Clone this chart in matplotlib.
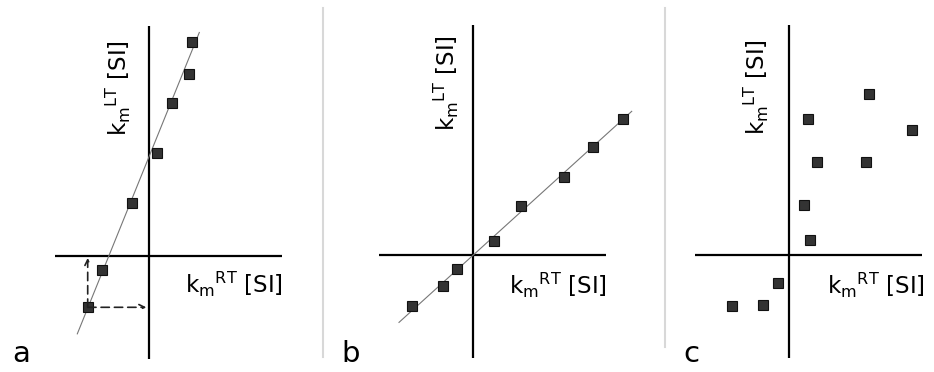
import numpy as np
import matplotlib
matplotlib.use("Agg")
import matplotlib.pyplot as plt
from matplotlib.lines import Line2D

plt.rcParams['font.family'] = ['DejaVu Sans']
plt.rcParams['mathtext.fontset'] = 'dejavusans'

# data (arbitrary units, origin at axis crossing)
a_x = [4.24, 3.94, 2.30, 0.74, -1.76, -4.70, -6.16]
a_y = [21.37, 18.20, 15.33, 10.27, 5.33, -1.40, -5.13]
a_fit = (2.47, 10.0)
a_fit_x = [-7.2, 5.0]

b_x = [14.94, 12.00, 9.10, 4.74, 2.07, -1.66, -3.06, -6.10]
b_y = [13.60, 10.83, 7.77, 4.90, 1.43, -1.37, -3.10, -5.10]
b_fit = (0.907, 0.0)
b_fit_x = [-7.43, 15.84]

c_x = [8.00, 1.93, 12.27, 2.83, 7.73, 1.50, 2.10, -1.07, -2.57, -5.67]
c_y = [16.10, 13.57, 12.50, 9.33, 9.33, 5.00, 1.50, -2.83, -5.00, -5.10]

W, H = 934, 372
fig = plt.figure(figsize=(W / 100, H / 100), dpi=100)

# panel boxes in pixels: left, right, origin x, origin y
panels = [
    (0, 323, 149.3, 256),
    (323, 665, 473.3, 255),
    (665, 934, 789, 255),
]
scale = 10.0  # px per unit

axes = []
for (x0, x1, ox, oy) in panels:
    ax = fig.add_axes([x0 / W, 0, (x1 - x0) / W, 1])
    ax.set_xlim((x0 - ox) / scale, (x1 - ox) / scale)
    ax.set_ylim((oy - H) / scale, oy / scale)
    ax.axis('off')
    axes.append(ax)

xl = r"k$_\mathregular{m}$$^\mathregular{RT}$ [SI]"
yl = r"k$_\mathregular{m}$$^\mathregular{LT}$ [SI]"
fs = 16.5
ylab_pos = [(-3.13, 16.8), (-2.66, 17.2), (-3.23, 16.8)]
xlab_pos = [(8.47, -2.8), (8.5, -3.0), (8.68, -3.0)]
letters = ['a', 'b', 'c']
letter_x = [12, 341, 683]

for i, ax in enumerate(axes):
    ax.plot([-9.4, 13.3], [0, 0], color='black', lw=1.6, solid_capstyle='butt')
    ax.plot([0, 0], [-10.3, 23.0], color='black', lw=1.6, solid_capstyle='butt')
    ax.text(*ylab_pos[i], yl, rotation=90, ha='center', va='center', fontsize=fs)
    ax.text(*xlab_pos[i], xl, ha='center', va='center', fontsize=fs)
    fig.text(letter_x[i] / W, 1 - 362 / H, letters[i], fontsize=21, ha='left', va='baseline')

mk = dict(marker='s', linestyle='none', markersize=7.6, markerfacecolor='#333333',
          markeredgecolor='#111111', markeredgewidth=0.8, zorder=3)

fx = np.array(a_fit_x)
axes[0].plot(fx, a_fit[0] * fx + a_fit[1], color='#777777', lw=0.8)
axes[0].plot(a_x, a_y, **mk)
arr = dict(arrowstyle='->', linestyle=(0, (5, 3)), color='#222222', lw=1.2,
           shrinkA=0, shrinkB=0)
axes[0].annotate('', xy=(a_x[-1], -0.2), xytext=(a_x[-1], a_y[-1]), arrowprops=arr)
axes[0].annotate('', xy=(-0.3, a_y[-1]), xytext=(a_x[-1], a_y[-1]), arrowprops=arr)

fx = np.array(b_fit_x)
axes[1].plot(fx, b_fit[0] * fx + b_fit[1], color='#777777', lw=0.8)
axes[1].plot(b_x, b_y, **mk)

axes[2].plot(c_x, c_y, **mk)

# separators
fig.add_artist(Line2D([323 / W, 323 / W], [1 - 8 / H, 1 - 357 / H], color='#d8d8d8', lw=1.5))
fig.add_artist(Line2D([665 / W, 665 / W], [1 - 8 / H, 1 - 347 / H], color='#d8d8d8', lw=1.5))

fig.savefig('out.png', dpi=100, facecolor='white')
